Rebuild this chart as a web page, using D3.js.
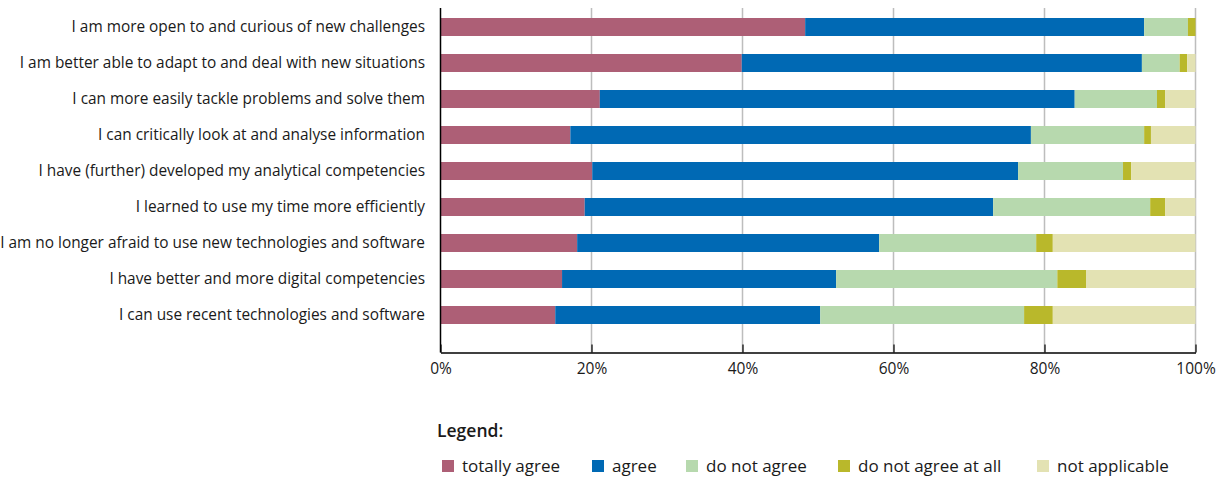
<!DOCTYPE html>
<html>
<head>
<meta charset="utf-8">
<script src="https://cdn.jsdelivr.net/npm/d3@7"></script>
<style>
  body { margin: 0; background: #fff; }
  svg { display: block; font-family: "Open Sans", sans-serif; }
</style>
</head>
<body>
<svg id="chart" width="1221" height="477"></svg>
<script>
const categories = [
  "I am more open to and curious of new challenges",
  "I am better able to adapt to and deal with new situations",
  "I can more easily tackle problems and solve them",
  "I can critically look at and analyse information",
  "I have (further) developed my analytical competencies",
  "I learned to use my time more efficiently",
  "I am no longer afraid to use new technologies and software",
  "I have better and more digital competencies",
  "I can use recent technologies and software"
];
const seriesNames = ["totally agree", "agree", "do not agree", "do not agree at all", "not applicable"];
const totallyAgree   = [48.3, 39.9, 21.1, 17.2, 20.1, 19.1, 18.1, 16.1, 15.2];
const agree          = [44.9, 53.0, 62.9, 61.0, 56.4, 54.1, 40.0, 36.3, 35.1];
const doNotAgree     = [5.8, 5.0, 10.9, 15.0, 13.9, 20.8, 20.8, 29.3, 27.0];
const doNotAgreeAll  = [1.0, 1.0, 1.1, 0.9, 1.1, 2.0, 2.2, 3.8, 3.8];
const notApplicable  = [0.0, 1.1, 4.0, 5.9, 8.5, 4.0, 18.9, 14.5, 18.9];
const tickValues = [0, 20, 40, 60, 80, 100];
const colors = ["#ad5f76", "#0069b4", "#b7d9ae", "#b9b82b", "#e3e2b3"];

const seriesValues = [totallyAgree, agree, doNotAgree, doNotAgreeAll, notApplicable];
const rows = categories.map((c, i) => {
  const r = { category: c };
  seriesNames.forEach((s, j) => r[s] = seriesValues[j][i]);
  return r;
});

const svg = d3.select("#chart");
const x = d3.scaleLinear().domain([0, 100]).range([440.5, 1195.5]);
const y = d3.scaleBand().domain(categories).range([9, 333]).paddingInner(0.5).paddingOuter(0.25);
const plotTop = 8, plotBottom = 352.5;

// gridlines
svg.append("g").selectAll("line").data(tickValues.filter(t => t > 0)).join("line")
  .attr("x1", d => x(d)).attr("x2", d => x(d))
  .attr("y1", plotTop).attr("y2", plotBottom)
  .attr("stroke", "#bdbdbd").attr("stroke-width", 1.5);

// bars
const stack = d3.stack().keys(seriesNames)(rows);
svg.append("g").selectAll("g").data(stack).join("g")
  .attr("fill", (d, i) => colors[i])
  .selectAll("rect").data(d => d).join("rect")
  .attr("x", d => x(d[0]))
  .attr("width", d => Math.max(0, x(d[1]) - x(d[0])))
  .attr("y", d => y(d.data.category))
  .attr("height", y.bandwidth());

// left axis line
svg.append("line").attr("x1", x(0)).attr("x2", x(0)).attr("y1", plotTop).attr("y2", plotBottom)
  .attr("stroke", "#000").attr("stroke-width", 1.5);

// category labels
svg.append("g").selectAll("text").data(categories).join("text")
  .attr("x", 425).attr("y", d => y(d) + y.bandwidth() / 2)
  .attr("dy", "0.35em").attr("text-anchor", "end")
  .attr("font-size", 15.4).attr("fill", "#1a1a1a")
  .text(d => d);

// bottom axis
const xAxis = d3.axisBottom(x).tickValues(tickValues).tickFormat(d => d + "%").tickSize(-8).tickSizeOuter(0).tickPadding(10);
const gx = svg.append("g").attr("transform", `translate(0,${plotBottom})`).call(xAxis);
gx.select(".domain").attr("stroke", "#000").attr("stroke-width", 1.5);
gx.selectAll(".tick line").attr("stroke", "#000").attr("stroke-width", 1.2);
gx.selectAll(".tick text").attr("font-size", 15.5).attr("fill", "#1a1a1a").attr("font-family", "Open Sans, sans-serif");

// legend
svg.append("text").attr("x", 437).attr("y", 437).attr("font-size", 17.5).attr("font-weight", 600)
  .attr("fill", "#1a1a1a").text("Legend:");
const legendX = [442, 592, 686, 838, 1037];
const lg = svg.append("g").selectAll("g").data(seriesNames).join("g")
  .attr("transform", (d, i) => `translate(${legendX[i]},466)`);
lg.append("rect").attr("x", 0).attr("y", -6).attr("width", 12).attr("height", 12).attr("fill", (d, i) => colors[i]);
lg.append("text").attr("x", 20).attr("y", 0).attr("dy", "0.35em").attr("font-size", 17)
  .attr("fill", "#1a1a1a").text(d => d);
</script>
</body>
</html>
